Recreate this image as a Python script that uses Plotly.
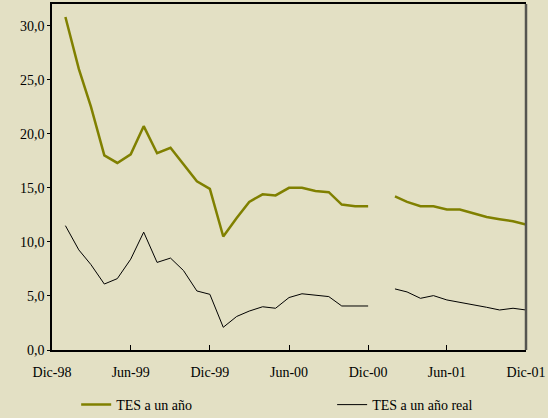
import plotly.graph_objects as go

months = ["1999-01-15","1999-02-15","1999-03-15","1999-04-15","1999-05-15","1999-06-15",
          "1999-07-15","1999-08-15","1999-09-15","1999-10-15","1999-11-15","1999-12-15",
          "2000-01-15","2000-02-15","2000-03-15","2000-04-15","2000-05-15","2000-06-15",
          "2000-07-15","2000-08-15","2000-09-15","2000-10-15","2000-11-15","2000-12-15",
          "2001-01-15","2001-02-15","2001-03-15","2001-04-15","2001-05-15","2001-06-15",
          "2001-07-15","2001-08-15","2001-09-15","2001-10-15","2001-11-15","2001-12-15"]

tes_nominal = [30.8, 26.0, 22.5, 18.0, 17.3, 18.1, 20.7, 18.2, 18.7, 17.2, 15.6, 14.9,
               10.5, 12.2, 13.7, 14.4, 14.3, 15.0, 15.0, 14.7, 14.6, 13.45, 13.3, 13.3,
               None, 14.2, 13.7, 13.3, 13.3, 13.0, 13.0, 12.65, 12.3, 12.1, 11.9, 11.6]

tes_real = [11.5, 9.26, 7.9, 6.1, 6.6, 8.4, 10.9, 8.1, 8.5, 7.35, 5.46, 5.15,
            2.1, 3.1, 3.6, 4.0, 3.86, 4.85, 5.2, 5.1, 4.94, 4.07, 4.07, 4.07,
            None, 5.65, 5.37, 4.78, 5.03, 4.63, 4.41, 4.23, 3.95, 3.7, 3.86, 3.7]

x_tick_vals = ["1998-12-15","1999-06-15","1999-12-15","2000-06-15","2000-12-15","2001-06-15","2001-12-15"]
x_tick_text = ["Dic-98","Jun-99","Dic-99","Jun-00","Dic-00","Jun-01","Dic-01"]
y_tick_vals = [0, 5, 10, 15, 20, 25, 30]
y_tick_text = ["0,0", "5,0", "10,0", "15,0", "20,0", "25,0", "30,0"]

bg = "#e3e0c4"
font_family = "Liberation Serif, Times New Roman, serif"

fig = go.Figure()
fig.add_trace(go.Scatter(x=months, y=tes_nominal, mode="lines", name="TES a un año",
                         line=dict(color="#808000", width=2.5), connectgaps=False,
                         legend="legend"))
fig.add_trace(go.Scatter(x=months, y=tes_real, mode="lines", name="TES a un año real",
                         line=dict(color="#000000", width=1), connectgaps=False,
                         legend="legend2"))

legend_common = dict(orientation="h", y=-0.159, xanchor="left", yanchor="middle",
                     bgcolor="rgba(0,0,0,0)", font=dict(family=font_family, size=14),
                     itemwidth=30)

fig.update_layout(
    width=548, height=418,
    margin=dict(l=52, r=22, t=4, b=68, autoexpand=False),
    paper_bgcolor=bg, plot_bgcolor=bg,
    font=dict(family=font_family, size=14, color="#000000"),
    showlegend=True,
    legend=dict(x=0.051, **legend_common),
    legend2=dict(x=0.591, **legend_common),
    xaxis=dict(type="date", range=["1998-12-15", "2001-12-15"],
               tickmode="array", tickvals=x_tick_vals, ticktext=x_tick_text,
               ticks="inside", ticklen=5, tickcolor="#000", tickwidth=1,
               ticklabelstandoff=8,
               showline=True, linecolor="#000", linewidth=1.5, mirror=True,
               showgrid=False, zeroline=False, tickfont=dict(size=14)),
    yaxis=dict(range=[0, 32], tickmode="array", tickvals=y_tick_vals, ticktext=y_tick_text,
               ticks="outside", ticklen=3, tickcolor="#000",
               showline=True, linecolor="#000", linewidth=1.5,
               showgrid=False, zeroline=False, tickfont=dict(size=14)),
    shapes=[dict(type="line", xref="paper", yref="paper", x0=1, x1=1, y0=0, y1=1,
                 line=dict(color="#555550", width=2.5))],
)

fig.write_html("out.html", config={"displayModeBar": False},
               post_script="document.body.style.margin='0';document.body.style.background='" + bg + "';")
